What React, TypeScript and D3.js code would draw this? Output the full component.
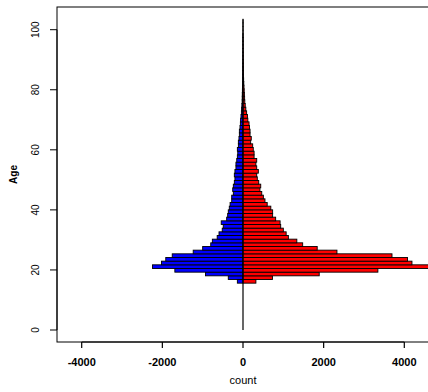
import React from "react";
import * as d3 from "d3";

// Age bins: 72 equal-width bins spanning the observed ages
const AGE_MIN = 15.6;
const AGE_MAX = 103.5;
const N_BINS = 72;

// Counts per bin (left side, shown as negative)
const blueCounts = [
  140, 365, 930, 1690, 2245, 2020, 1915, 1755, 1235, 1000, 800, 760,
  640, 595, 515, 490, 540, 405, 380, 365, 340, 320, 280, 280,
  240, 255, 240, 215, 200, 215, 200, 175, 175, 155, 140, 130,
  140, 115, 115, 100, 90, 90, 75, 65, 60, 50, 40, 35,
  28, 22, 20, 18, 15, 12, 10, 8, 7, 6, 5, 4,
  3, 3, 2, 2, 1, 1, 1, 1, 0, 0, 0, 0,
];
// Counts per bin (right side)
const redCounts = [
  320, 730, 1890, 3345, 4650, 4190, 4080, 3695, 2330, 1840, 1480, 1335,
  1125, 1070, 1000, 935, 920, 810, 735, 735, 690, 600, 545, 505,
  465, 420, 440, 390, 355, 340, 380, 340, 320, 340, 275, 275,
  255, 240, 190, 205, 175, 175, 160, 150, 120, 110, 90, 70,
  55, 45, 40, 35, 30, 25, 20, 16, 12, 10, 8, 7,
  6, 5, 4, 3, 3, 2, 2, 1, 1, 1, 1, 1,
];

const xTicks = [-4000, -2000, 0, 2000, 4000];
const yTicks = [0, 20, 40, 60, 80, 100];

const W = 428;
const H = 392;
const box = { left: 57, top: 7, right: 429, bottom: 342 };

export default function App() {
  const x = d3.scaleLinear().domain([-4000, 4000]).range([81.7, 404.3]);
  const y = d3.scaleLinear().domain([0, 100]).range([330, 29.7]);
  const binW = (AGE_MAX - AGE_MIN) / N_BINS;
  const bins = d3.range(N_BINS).map((i) => AGE_MIN + i * binW);
  const font = "'Liberation Sans', Arial, Helvetica, sans-serif";

  return (
    <svg
      width={W}
      height={H}
      style={{ position: "absolute", left: 0, top: 0, background: "#fff" }}
      fontFamily={font}
    >
      <defs>
        <clipPath id="plotclip">
          <rect x={box.left} y={box.top} width={box.right - box.left} height={box.bottom - box.top} />
        </clipPath>
      </defs>
      <rect x={0} y={0} width={W} height={H} fill="#fff" />
      <g clipPath="url(#plotclip)">
        {bins.map((a, i) => (
          <rect
            key={"b" + i}
            x={x(-blueCounts[i])}
            y={y(a + binW)}
            width={x(0) - x(-blueCounts[i])}
            height={y(a) - y(a + binW)}
            fill="#0000ff"
            stroke="#000"
            strokeWidth={0.9}
          />
        ))}
        {bins.map((a, i) => (
          <rect
            key={"r" + i}
            x={x(0)}
            y={y(a + binW)}
            width={x(redCounts[i]) - x(0)}
            height={y(a) - y(a + binW)}
            fill="#ff0000"
            stroke="#000"
            strokeWidth={0.9}
          />
        ))}
        <line x1={x(0)} x2={x(0)} y1={y(0)} y2={y(AGE_MAX)} stroke="#000" strokeWidth={1.2} />
      </g>
      {/* plot box */}
      <rect
        x={box.left}
        y={box.top}
        width={box.right - box.left}
        height={box.bottom - box.top}
        fill="none"
        stroke="#000"
        strokeWidth={1}
      />
      {/* x axis */}
      <line x1={x(-4000)} x2={x(4000)} y1={box.bottom} y2={box.bottom} stroke="#000" strokeWidth={1.2} />
      {xTicks.map((t) => (
        <g key={"xt" + t}>
          <line x1={x(t)} x2={x(t)} y1={box.bottom} y2={box.bottom + 6} stroke="#000" strokeWidth={1.2} />
          <text x={x(t)} y={366} fontSize={11} fontWeight="bold" textAnchor="middle" fill="#000">
            {t}
          </text>
        </g>
      ))}
      <text x={243} y={384} fontSize={11} textAnchor="middle" fill="#000">
        count
      </text>
      {/* y axis */}
      <line x1={box.left} x2={box.left} y1={y(0)} y2={y(100)} stroke="#000" strokeWidth={1} />
      {yTicks.map((t) => (
        <g key={"yt" + t}>
          <line x1={box.left - 7} x2={box.left} y1={y(t)} y2={y(t)} stroke="#000" strokeWidth={1} />
          <text
            transform={`translate(39,${y(t)}) rotate(-90)`}
            fontSize={10}
            textAnchor="middle"
            fill="#000"
          >
            {t}
          </text>
        </g>
      ))}
      <text
        transform={`translate(16.5,${(box.top + box.bottom) / 2}) rotate(-90)`}
        fontSize={10}
        fontWeight="bold"
        textAnchor="middle"
        fill="#000"
      >
        Age
      </text>
    </svg>
  );
}
